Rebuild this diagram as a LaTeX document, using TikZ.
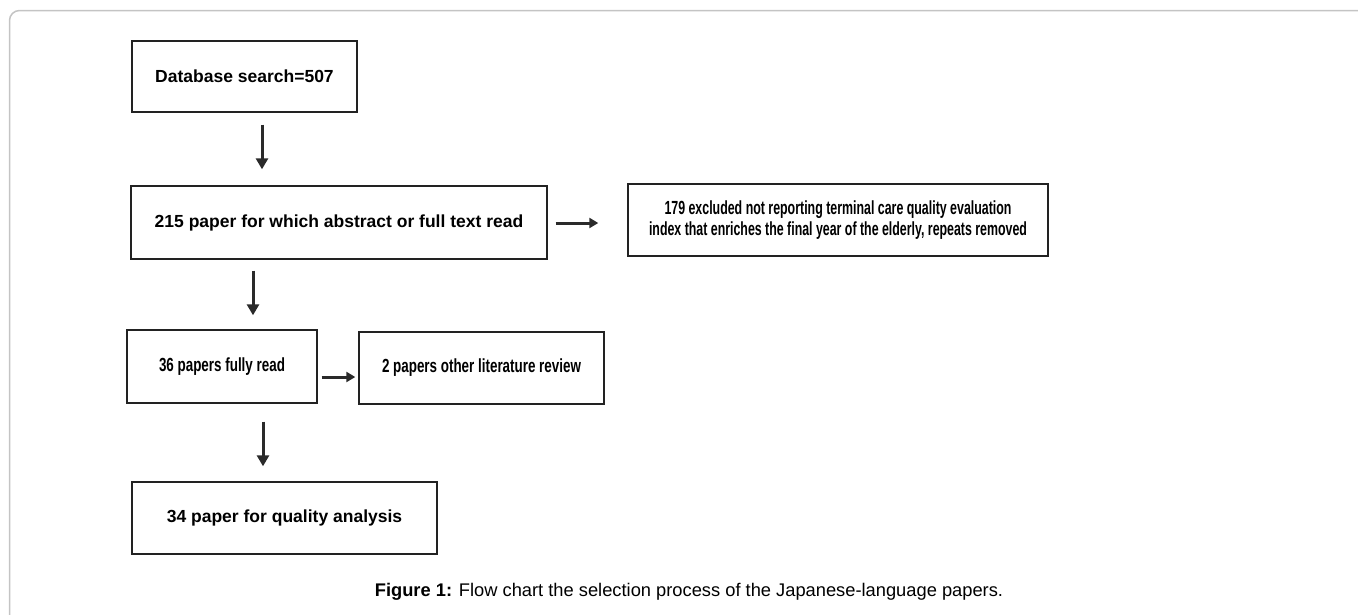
\documentclass[tikz,border=0pt]{standalone}
\usepackage{fontspec}
\setmainfont{Liberation Sans}
\usetikzlibrary{arrows.meta}
\definecolor{boxline}{HTML}{222222}
\definecolor{arrcol}{HTML}{2A2A2A}
\definecolor{frame}{HTML}{C4C4C4}
\tikzset{
  flowbox/.style={draw=boxline, line width=1.4pt, rectangle, inner sep=0pt, align=center,
    font=\fontsize{17.5}{20}\selectfont\bfseries},
  condensed/.style={font=\fontsize{19}{21}\selectfont\bfseries},
  vdown/.style={draw=arrcol, line width=3pt, -{Triangle[length=11pt,width=12pt]}},
  hright/.style={draw=arrcol, line width=3pt, -{Triangle[length=9pt,width=10pt]}},
}
\begin{document}
\begin{tikzpicture}[x=1pt,y=-1pt]
\useasboundingbox (0,0) rectangle (1358,614);
\draw[frame, line width=1.5pt, rounded corners=10pt] (9.5,620) -- (9.5,10.5) -- (1370,10.5);

\node[flowbox, minimum width=225pt, minimum height=71pt] (b1) at (244.5,76.5) {Database search=507};
\node[flowbox, minimum width=416pt, minimum height=73pt] (b2) at (339,222.5) {215 paper for which abstract or full text read};
\node[flowbox, condensed, minimum width=420pt, minimum height=72pt] (b3) at (838,220)
  {\resizebox{347pt}{\height}{179 excluded not reporting terminal care quality evaluation}\\
   \resizebox{378pt}{\height}{index that enriches the final year of the elderly, repeats removed}};
\node[flowbox, condensed, minimum width=190pt, minimum height=73pt] (b4) at (222,366.5) {\resizebox{126pt}{\height}{36 papers fully read}};
\node[flowbox, condensed, minimum width=245pt, minimum height=72pt] (b5) at (481.5,368) {\resizebox{199pt}{\height}{2 papers other literature review}};
\node[flowbox, minimum width=305pt, minimum height=72pt] (b6) at (284.5,518) {34 paper for quality analysis};

\draw[vdown] ([shift={(17.5,12)}]b1.south) -- ([shift={(-77,-16)}]b2.north);
\draw[vdown] ([shift={(-86,11)}]b2.south) -- ([shift={(31,-14)}]b4.north);
\draw[vdown] ([shift={(41,18)}]b4.south) -- ([shift={(-21.5,-15)}]b6.north);
\draw[hright] ([shift={(8,0.5)}]b2.east) -- ([shift={(-29,3)}]b3.west);
\draw[hright] ([shift={(4,10.5)}]b4.east) -- ([shift={(-3,9)}]b5.west);

\node[font=\fontsize{18.3}{21}\selectfont, inner sep=0pt] (cap) at (689,592)
  {\textbf{Figure 1:} Flow chart the selection process of the Japanese-language papers.};
\end{tikzpicture}
\end{document}
